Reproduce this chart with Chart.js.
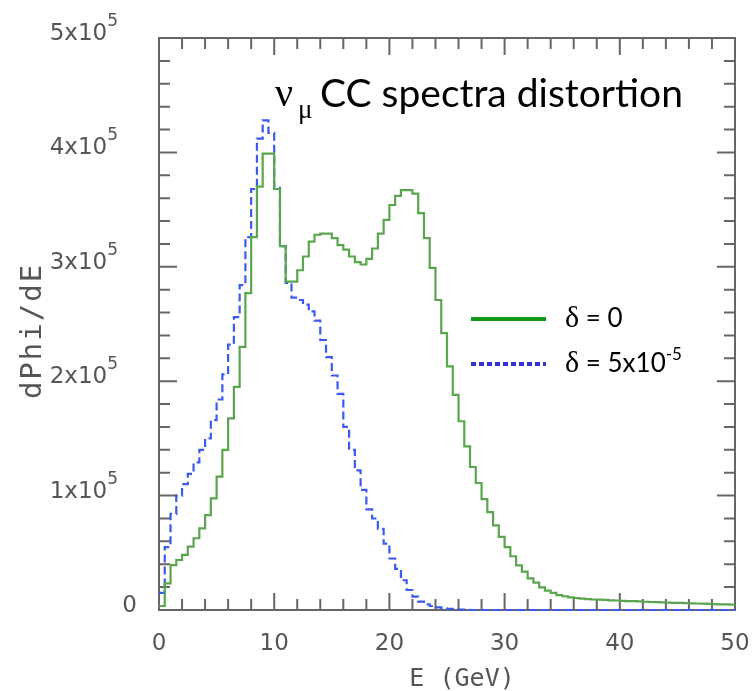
<!DOCTYPE html>
<html>
<head>
    <meta charset="UTF-8">
    <title>nu_mu CC spectra distortion</title>
    <script src="https://cdn.jsdelivr.net/npm/chart.js"></script>
    <style>
        html, body { margin: 0; padding: 0; background: #fff; }
        #wrap { width: 756px; height: 691px; }
    </style>
</head>
<body>
<div id="wrap"><canvas id="spectra" width="756" height="691"></canvas></div>
<script>
    // histogram bins of 0.5 GeV from 0 to 50 GeV
    const binWidth = 0.5;

    // delta = 0 (green, solid)
    const deltaZero = [
        3500, 23300, 39300, 43700, 48100, 55400, 62700, 71400, 83000, 97600,
        116500, 140000, 167500, 195000, 230000, 277000, 326000, 370000, 399000, 399000,
        368000, 318000, 287000, 287000, 297000, 309000, 322000, 328000, 329000, 329000,
        325000, 319000, 315000, 309000, 304000, 302000, 307000, 316000, 329000, 341000,
        354000, 362000, 367000, 367000, 364000, 347000, 325000, 299000, 271000, 242000,
        213000, 188000, 165000, 143000, 125000, 111000, 97000, 85500, 74000, 64000,
        55000, 47000, 39000, 33500, 27700, 24000, 19800, 17000, 15000, 13000,
        12000, 11000, 10500, 10000, 9500, 9200, 9000, 8800, 8500, 8300,
        8000, 7800, 7700, 7500, 7200, 7000, 6800, 6700, 6500, 6300,
        6200, 6000, 5800, 5700, 5500, 5400, 5200, 5000, 4900, 4700
    ];

    // delta = 5x10^-5 (blue, dashed)
    const deltaFive = [
        15000, 55000, 84000, 100000, 110000, 119000, 129000, 140000, 150000, 166000,
        184000, 206000, 232000, 256000, 284000, 326000, 368000, 412000, 428000, 417000,
        369000, 318000, 286000, 273000, 271000, 267000, 261000, 253000, 236000, 221000,
        205000, 189000, 160000, 140000, 122000, 105000, 88000, 80000, 71000, 58000,
        45000, 36000, 26000, 17500, 11700, 7300, 5000, 3500, 2300, 1500,
        1000, 600, 300, 200, 0, 0, 0, 0, 0, 0,
        0, 0, 0, 0, 0, 0, 0, 0, 0, 0,
        0, 0, 0, 0, 0, 0, 0, 0, 0, 0,
        0, 0, 0, 0, 0, 0, 0, 0, 0, 0,
        0, 0, 0, 0, 0, 0, 0, 0, 0, 0
    ];

    const xMajor = [0, 10, 20, 30, 40, 50];
    const xMinorStep = 2;
    const yMajorStep = 100000;
    const yMinorStep = 20000;

    function toSteps(values) {
        const pts = values.map((v, i) => ({ x: i * binWidth, y: v }));
        pts.push({ x: values.length * binWidth, y: values[values.length - 1] });
        return pts;
    }

    const frameColor = '#666';
    const labelColor = '#555';

    const framePlugin = {
        id: 'frame',
        beforeDatasetsDraw(chart) {
            const { ctx, chartArea: a, scales: { x, y } } = chart;
            ctx.save();
            ctx.strokeStyle = frameColor;
            ctx.lineWidth = 2;
            ctx.strokeRect(a.left, a.top, a.right - a.left, a.bottom - a.top);
            ctx.beginPath();
            for (let e = x.min; e <= x.max + 1e-9; e += xMinorStep) {
                const px = x.getPixelForValue(e);
                const len = xMajor.includes(e) ? 17 : 11;
                ctx.moveTo(px, a.bottom); ctx.lineTo(px, a.bottom - len);
                ctx.moveTo(px, a.top); ctx.lineTo(px, a.top + len);
            }
            for (let v = y.min; v <= y.max + 1; v += yMinorStep) {
                const py = y.getPixelForValue(v);
                const len = v % yMajorStep === 0 ? 18 : 11;
                ctx.moveTo(a.left, py); ctx.lineTo(a.left + len, py);
                ctx.moveTo(a.right, py); ctx.lineTo(a.right - len, py);
            }
            ctx.stroke();

            // y tick labels like 4x10^5, with a real superscript
            ctx.fillStyle = labelColor;
            ctx.textAlign = 'right';
            ctx.textBaseline = 'alphabetic';
            y.ticks.forEach(t => {
                const py = y.getPixelForValue(t.value);
                if (t.value === 0) {
                    ctx.font = '23px "DejaVu Sans"';
                    ctx.fillText('0', 137, py + 2);
                    return;
                }
                ctx.font = '17px "DejaVu Sans"';
                ctx.fillText('5', 118, py - 12);
                const sw = ctx.measureText('5').width;
                ctx.font = '23px "DejaVu Sans"';
                ctx.fillText((t.value / 1e5) + 'x10', 118 - sw, py + 2);
            });

            // y axis title
            ctx.translate(33, (a.top + a.bottom) / 2 + 8);
            ctx.rotate(-Math.PI / 2);
            ctx.textAlign = 'center';
            ctx.textBaseline = 'middle';
            ctx.font = '29px "DejaVu Sans Mono"';
            ctx.letterSpacing = '2px';
            ctx.fillText('dPhi/dE', 1, 0);
            ctx.restore();
        },
        afterDraw(chart) {
            const ctx = chart.ctx;
            ctx.save();
            ctx.fillStyle = '#000';
            ctx.textBaseline = 'alphabetic';
            ctx.textAlign = 'left';

            // title
            ctx.font = '40px "Liberation Serif"';
            ctx.fillText('ν', 275, 106);
            ctx.font = '27px "Liberation Serif"';
            ctx.fillText('μ', 298, 118);
            ctx.font = '35px Lato, "Open Sans", sans-serif';
            let w = ctx.measureText('CC spectra distortion').width;
            const size = Math.round(35 * 362 / w);
            ctx.font = size + 'px Lato, "Open Sans", sans-serif';
            ctx.fillText('CC spectra distortion', 320, 107);

            // legend
            ctx.lineWidth = 4;
            ctx.strokeStyle = '#139a13';
            ctx.beginPath();
            ctx.moveTo(471, 319); ctx.lineTo(546, 319);
            ctx.stroke();
            ctx.strokeStyle = '#3333d6';
            ctx.setLineDash([5, 3]);
            ctx.beginPath();
            ctx.moveTo(471, 364); ctx.lineTo(546, 364);
            ctx.stroke();
            ctx.setLineDash([]);

            const txtFont = '26px Lato, "Open Sans", sans-serif';
            ctx.font = '30px "Liberation Serif"';
            ctx.fillText('δ', 565, 327);
            ctx.fillText('δ', 565, 372);
            let dw = ctx.measureText('δ').width;
            ctx.font = txtFont;
            ctx.fillText(' = 0', 565 + dw, 327);
            ctx.fillText(' = 5x10', 565 + dw, 372);
            const bw = ctx.measureText(' = 5x10').width;
            ctx.font = '17px Lato, "Open Sans", sans-serif';
            ctx.fillText('-5', 565 + dw + bw, 360);
            ctx.restore();
        }
    };

    new Chart(document.getElementById('spectra'), {
        type: 'line',
        data: {
            datasets: [
                {
                    label: 'δ = 0',
                    data: toSteps(deltaZero),
                    borderColor: '#5aa64e',
                    borderWidth: 2.2,
                    stepped: true,
                    pointRadius: 0,
                    fill: false,
                    clip: 4
                },
                {
                    label: 'δ = 5x10-5',
                    data: toSteps(deltaFive),
                    borderColor: '#3a5af0',
                    borderWidth: 2.2,
                    borderDash: [8, 4],
                    stepped: true,
                    pointRadius: 0,
                    fill: false,
                    clip: 4
                }
            ]
        },
        options: {
            responsive: false,
            animation: false,
            devicePixelRatio: 1,
            layout: { padding: { top: 38, right: 21, left: 0, bottom: 0 } },
            plugins: {
                legend: { display: false },
                tooltip: { enabled: false }
            },
            scales: {
                x: {
                    type: 'linear',
                    min: 0,
                    max: 50,
                    afterFit(s) { s.height = 81; s.paddingLeft = 0; s.paddingRight = 0; },
                    grid: { display: false, drawTicks: false },
                    border: { display: false },
                    ticks: {
                        stepSize: 10,
                        color: labelColor,
                        font: { family: '"DejaVu Sans"', size: 23 },
                        padding: 20,
                        maxRotation: 0
                    },
                    title: {
                        display: true,
                        text: '  E (GeV)',
                        color: labelColor,
                        font: { family: '"DejaVu Sans Mono"', size: 25, lineHeight: 0.9 },
                        padding: 0
                    }
                },
                y: {
                    min: 0,
                    max: 500000,
                    afterFit(s) { s.width = 159; s.paddingTop = 0; s.paddingBottom = 0; },
                    grid: { display: false, drawTicks: false },
                    border: { display: false },
                    ticks: {
                        display: false,
                        stepSize: yMajorStep
                    }
                }
            }
        },
        plugins: [framePlugin]
    });
</script>
</body>
</html>
